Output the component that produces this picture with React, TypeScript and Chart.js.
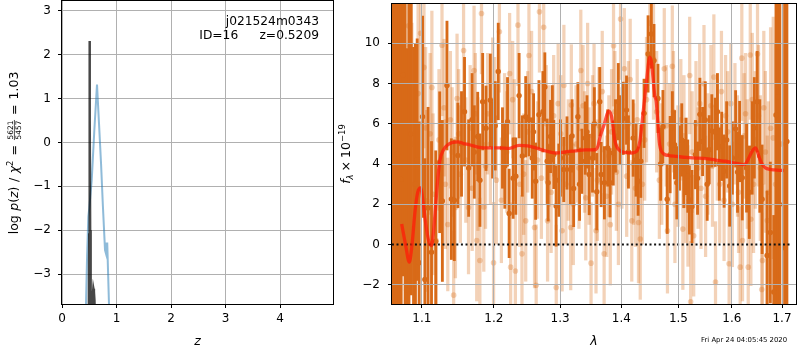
import React, { useEffect, useRef } from 'react';
import { Chart, registerables } from 'chart.js';

Chart.register(...registerables);

const FAM = 'DejaVu Sans';

// ---------- left panel: log p(z) ----------
const zTicks = [0, 1, 2, 3, 4];
const logpTicks = [-3, -2, -1, 0, 1, 2, 3];
const pzBlueZ = [0.425, 0.44, 0.46, 0.483, 0.5, 0.545, 0.593, 0.642, 0.68, 0.716, 0.75, 0.789, 0.8, 0.807, 0.83, 0.846, 0.862, 0.875];
const pzBlueLog = [-4.6, -3.7, -2.6, -1.69, -1.5, -0.86, 0.28, 1.32, 0.4, -0.48, -1.45, -2.45, -2.5, -2.3, -2.3, -3.0, -3.7, -4.5];
const pzDarkZ = [0.49, 0.5, 0.505, 0.508, 0.511, 0.516, 0.525, 0.55, 0.565, 0.575, 0.585, 0.595, 0.61];
const pzDarkLog = [-4.5, -2.1, 0.5, 2.31, 0.5, -2.0, -4.0, -4.2, -3.5, -3.33, -3.4, -3.6, -4.5];

// ---------- right panel: spectrum ----------
const lamTicks = [1.1, 1.2, 1.3, 1.4, 1.5, 1.6, 1.7];
const fluxTicks = [-2, 0, 2, 4, 6, 8, 10];

const darkLam = [1.0625, 1.065, 1.068, 1.07, 1.0726, 1.0756, 1.078, 1.08, 1.083, 1.086, 1.089, 1.0915, 1.0938, 1.0964, 1.1009, 1.104, 1.1083, 1.1129, 1.1186, 1.124, 1.1276, 1.1339, 1.1399, 1.144, 1.1489, 1.1582, 1.1689, 1.1768, 1.1839, 1.1887, 1.1949, 1.1982, 1.2064, 1.2126, 1.22, 1.2224, 1.2283, 1.2323, 1.2372, 1.2471, 1.2521, 1.257, 1.2622, 1.2672, 1.2733, 1.2763, 1.2799, 1.2814, 1.2851, 1.2902, 1.2938, 1.3006, 1.3058, 1.3109, 1.3163, 1.3215, 1.3283, 1.3347, 1.3402, 1.3466, 1.352, 1.359, 1.3639, 1.3662, 1.3716, 1.377, 1.381, 1.3864, 1.3948, 1.3977, 1.4032, 1.4087, 1.4201, 1.4286, 1.4333, 1.4389, 1.4459, 1.4516, 1.4563, 1.4633, 1.4721, 1.4797, 1.485, 1.4929, 1.497, 1.5019, 1.5096, 1.5138, 1.52, 1.5247, 1.531, 1.5394, 1.5444, 1.5494, 1.5569, 1.5617, 1.5681, 1.5724, 1.5806, 1.5851, 1.5958, 1.601, 1.6073, 1.6151, 1.6203, 1.6287, 1.6398, 1.6497, 1.6596, 1.6696, 1.6762, 1.6831, 1.6877, 1.6918, 1.695, 1.7054, 1.7101,
  1.154, 1.164, 1.172, 1.18, 1.202, 1.216, 1.242, 1.259, 1.288, 1.298, 1.319, 1.331, 1.343, 1.355, 1.39, 1.412, 1.425, 1.468, 1.489, 1.506, 1.517, 1.535, 1.553, 1.576, 1.59, 1.611, 1.634, 1.644, 1.655];
const darkFlux = [1.0, 7.67, 4.5, -1.0, 3.24, 8.44, 0.5, -2.27, 2.0, 5.5, 0.8, 3.0, 4.22, -0.9, 6.35, -1.73, 1.82, -0.38, 0.16, 4.09, 2.17, 7.9, 2.26, 2.2, 4.43, 6.6, 6.2, 5.37, 7.1, 5.78, 7.17, 5.2, 8.6, 4.8, 6.1, 1.55, 3.3, 3.4, 7.4, 6.35, 6.2, 4.3, 3.15, 6.45, 6.6, 7.83, 4.14, 3.07, 5.37, 4.48, 1.92, 4.3, 3.73, 4.55, 3.73, 2.79, 6.35, 4.14, 5.29, 3.48, 4.3, 2.63, 7.1, 3.48, 3.07, 4.8, 3.07, 4.55, 7.1, 5.7, 6.27, 6.68, 5.29, 3.15, 4.14, 6.52, 9.47, 10.46, 9.14, 7.26, 5.86, 2.25, 4.47, 4.96, 3.07, 4.3, 3.53, 4.38, 2.22, 1.89, 4.47, 6.47, 5.12, 6.19, 4.71, 5.65, 5.58, 6.6, 4.88, 3.65, 2.91, 4.3, 5.75, 5.12, 3.32, 3.81, 4.8, 7.1, 2.25, -0.54, 0.6, -2.35, 6.44, 7.34, 2.0, -0.16, 5.12,
  5.0, 3.8, 4.6, 3.2, 5.9, 3.9, 4.4, 5.6, 6.0, 3.2, 5.4, 3.0, 5.6, 6.0, 5.4, 4.6, 4.2, 4.0, 5.8, 5.2, 3.4, 3.3, 3.0, 4.0, 5.2, 3.6, 2.6, 5.8, 4.4];
const darkErr = [25, 14, 20, 18, 12, 10, 16, 12, 10, 8, 9, 7, 6, 7, 5, 6, 5, 5.5, 4.5, 3.5, 4, 3.2, 3, 3, 2.6, 2.7, 2.3, 2.2, 2.4, 2.1, 2.3, 1.9, 2.4, 2.0, 2.2, 2.2, 2.0, 1.9, 2.1, 2.0, 1.8, 2.0, 1.9, 1.7, 2.0, 1.7, 2.1, 1.9, 1.8, 1.7, 2.0, 1.9, 1.6, 1.8, 1.7, 1.9, 1.7, 1.6, 1.8, 2.0, 1.7, 1.9, 1.7, 1.6, 1.8, 1.9, 1.7, 1.6, 1.9, 1.7, 1.8, 1.7, 1.9, 1.7, 1.8, 1.7, 1.9, 1.7, 1.8, 1.7, 1.8, 1.7, 1.9, 1.7, 1.8, 1.6, 1.7, 1.9, 1.7, 1.8, 1.7, 1.8, 1.7, 1.9, 1.7, 1.8, 1.7, 1.9, 1.7, 1.8, 2.0, 1.8, 1.9, 2.0, 2.1, 2.2, 2.3, 2.5, 2.7, 3.2, 3.5, 3.8, 15, 15, 18, 14, 14,
  2.6, 2.4, 2.3, 2.3, 2.2, 2.1, 2.0, 1.9, 1.9, 1.8, 1.8, 1.8, 1.8, 1.8, 1.8, 1.8, 1.8, 1.8, 1.8, 1.8, 1.8, 1.8, 1.8, 1.8, 1.9, 2.0, 2.3, 2.5, 2.8];

const lightLam = [1.0732, 1.0824, 1.084, 1.0868, 1.0983, 1.1028, 1.1065, 1.111, 1.1134, 1.1193, 1.1271, 1.1317, 1.1386, 1.1431, 1.1455, 1.1478, 1.1524, 1.1569, 1.1638, 1.1661, 1.1716, 1.1754, 1.1772, 1.1799, 1.1822, 1.1855, 1.1909, 1.1983, 1.1996, 1.2036, 1.2081, 1.2156, 1.2231, 1.2246, 1.2276, 1.2316, 1.2355, 1.2381, 1.2415, 1.2471, 1.2501, 1.252, 1.2605, 1.263, 1.265, 1.268, 1.2745, 1.2785, 1.2805, 1.286, 1.294, 1.297, 1.3011, 1.3032, 1.3092, 1.3168, 1.3178, 1.3253, 1.333, 1.3366, 1.341, 1.3463, 1.3496, 1.3545, 1.3577, 1.3625, 1.3711, 1.3754, 1.3814, 1.3835, 1.3868, 1.3916, 1.3986, 1.405, 1.4119, 1.4177, 1.4241, 1.4293, 1.4323, 1.4432, 1.4554, 1.4658, 1.4745, 1.478, 1.4802, 1.4889, 1.4936, 1.5043, 1.508, 1.5136, 1.5173, 1.5205, 1.5223, 1.5279, 1.5321, 1.5414, 1.547, 1.5544, 1.56, 1.5656, 1.5687, 1.5767, 1.5879, 1.5947, 1.601, 1.6109, 1.6162, 1.6194, 1.6207, 1.6267, 1.632, 1.636, 1.6372, 1.6425, 1.6504, 1.6524, 1.6589, 1.6603, 1.6662, 1.6722, 1.6767, 1.6821,
  1.076, 1.09, 1.095, 1.105, 1.115, 1.123, 1.13, 1.135, 1.141, 1.15, 1.16, 1.169, 1.1735, 1.188, 1.195, 1.201, 1.211, 1.219, 1.23, 1.244, 1.256, 1.271, 1.283, 1.29, 1.306, 1.313, 1.321, 1.33, 1.339, 1.344, 1.352, 1.36, 1.368, 1.379, 1.389, 1.395, 1.401, 1.409, 1.415, 1.421, 1.427, 1.436, 1.44, 1.449, 1.461, 1.47, 1.484, 1.491, 1.499, 1.51, 1.525, 1.536, 1.539, 1.55, 1.563, 1.572, 1.58, 1.585, 1.592, 1.598, 1.606, 1.613, 1.624, 1.63, 1.64, 1.646, 1.656, 1.663, 1.67, 1.687, 1.699];
const lightFlux = [4.8, 10.87, 9.85, 5.0, 10.5, 8.8, 2.17, 5.5, 7.8, 0.2, 9.9, 3.0, 6.2, -2.51, 1.84, 7.26, 3.5, 9.64, 1.84, 5.8, 8.65, 0.2, 4.0, -0.79, 11.48, 1.87, 6.5, 7.17, -0.9, 3.2, 10.57, 5.4, 8.49, -1.12, 7.2, -1.31, 10.9, 3.0, -0.46, 1.18, 5.6, 9.39, 0.85, -2.02, 4.2, 11.56, 10.79, 6.0, 1.18, 2.6, -2.13, 7.0, 5.5, 0.69, 3.0, 0.85, 6.93, 5.0, 8.65, 6.9, 2.33, 3.9, -0.92, 7.0, 0.69, 5.9, -0.46, 2.4, 0.99, 5.6, 9.88, 3.6, 11.2, 8.73, 6.0, 1.18, 2.8, 1.1, 0.28, 7.2, 9.22, 3.2, 8.73, 5.9, 0.69, 8.86, 2.0, 6.2, 0.77, 3.2, 1.92, 8.4, -2.84, 0.44, 6.0, 2.8, 7.99, 4.5, 6.9, 8.32, -1.86, 3.0, 6.4, -0.95, 2.0, 4.4, -1.12, 9.26, 0.2, 6.5, -1.12, 9.42, 1.26, 3.0, 9.47, 6.4, -2.23, -0.79, 4.6, 2.6, 5.78, 5.3,
  6.0, 3.0, 7.5, 5.8, 2.5, 5.2, 6.8, 1.0, 4.6, 5.5, 4.2, 2.8, 6.5, 3.9, 5.0, 6.3, 2.2, 4.6, 5.2, 3.5, 7.6, 3.3, 4.9, 6.4, 7.9, 4.2, 2.0, 3.8, 4.6, 8.0, 5.4, 3.2, 7.6, 4.4, 6.6, 2.0, 4.8, 3.4, 8.2, 4.0, 6.2, 3.0, 5.2, 11.0, 6.6, 4.0, 5.0, 6.6, 3.9, 5.4, 4.6, 3.8, 7.0, 2.4, 3.9, 5.2, 7.6, 2.2, 5.6, 7.0, 6.0, 2.6, 5.4, 4.0, 7.2, 5.2, 3.8, 6.8, 1.2, 3.0, 5.0];
const lightErr = [8, 6, 5, 6, 4.5, 4, 4.5, 4, 3.8, 4, 3.5, 3.2, 3.4, 3.2, 3.5, 3.2, 3.4, 3.0, 3.3, 3.1, 3.2, 3.0, 3.3, 3.1, 3.0, 3.2, 3.0, 3.1, 3.0, 3.2, 3.0, 3.1, 3.0, 3.2, 2.9, 3.0, 3.0, 3.1, 2.9, 3.0, 3.0, 3.1, 3.0, 3.0, 2.9, 3.0, 3.1, 2.9, 3.0, 3.0, 3.1, 3.0, 2.9, 3.0, 3.0, 3.1, 3.0, 2.9, 3.0, 3.0, 3.1, 2.9, 3.0, 3.0, 3.1, 2.9, 3.0, 3.0, 3.0, 3.1, 3.0, 2.9, 3.0, 3.0, 3.1, 3.0, 2.9, 3.0, 3.0, 3.1, 3.0, 2.9, 3.0, 3.0, 3.1, 3.0, 2.9, 3.0, 3.0, 3.1, 3.0, 2.9, 3.0, 3.0, 3.1, 3.0, 2.9, 3.0, 3.0, 3.1, 3.0, 2.9, 3.0, 3.0, 3.1, 3.0, 3.0, 3.1, 3.0, 3.0, 3.2, 3.2, 3.3, 3.4, 3.5, 3.5, 3.8, 3.8, 4, 4.5, 5, 6,
  7, 5, 4.5, 4, 4, 3.5, 3.4, 3.3, 3.2, 3.2, 3.1, 3.1, 3.0, 3.1, 3.0, 3.0, 3.1, 3.0, 3.0, 3.0, 3.0, 3.0, 3.0, 3.0, 3.0, 3.0, 3.0, 3.0, 3.0, 3.0, 3.0, 3.0, 3.0, 3.0, 3.0, 3.0, 3.0, 3.0, 3.0, 3.0, 3.0, 3.0, 3.0, 3.0, 3.0, 3.0, 3.0, 3.0, 3.0, 3.0, 3.0, 3.0, 3.0, 3.0, 3.0, 3.0, 3.0, 3.0, 3.0, 3.0, 3.0, 3.0, 3.1, 3.2, 3.3, 3.4, 3.6, 3.8, 4.2, 7, 10];

const modelLam = [1.0735, 1.0785, 1.0834, 1.087, 1.0908, 1.0945, 1.0983, 1.102, 1.1053, 1.109, 1.1129, 1.116, 1.1186, 1.1212, 1.124, 1.129, 1.1352, 1.142, 1.1489, 1.157, 1.1652, 1.1792, 1.195, 1.2079, 1.223, 1.2372, 1.25, 1.2622, 1.278, 1.2928, 1.308, 1.3242, 1.34, 1.3564, 1.361, 1.3646, 1.3716, 1.3782, 1.3832, 1.3894, 1.3977, 1.408, 1.4173, 1.4259, 1.432, 1.4374, 1.4431, 1.449, 1.4521, 1.4575, 1.4603, 1.4663, 1.474, 1.481, 1.497, 1.5138, 1.532, 1.5505, 1.569, 1.5881, 1.606, 1.6236, 1.629, 1.634, 1.64, 1.6464, 1.651, 1.6557, 1.661, 1.6663, 1.675, 1.685, 1.695, 1.7034];
const modelFlux = [1.02, 0.0, -0.87, 0.0, 1.6, 2.6, 2.82, 2.0, 1.0, 0.2, -0.05, 0.8, 2.0, 3.2, 4.14, 4.7, 4.96, 5.08, 5.1, 5.02, 4.96, 4.83, 4.8, 4.8, 4.78, 4.93, 4.9, 4.8, 4.65, 4.55, 4.6, 4.66, 4.7, 4.71, 4.9, 5.37, 6.0, 6.63, 6.4, 5.12, 4.66, 4.57, 4.55, 4.63, 5.2, 6.6, 8.08, 9.31, 9.0, 7.42, 7.09, 4.96, 4.5, 4.43, 4.38, 4.33, 4.3, 4.27, 4.2, 4.14, 4.05, 3.97, 4.1, 4.35, 4.65, 4.8, 4.55, 4.2, 3.95, 3.81, 3.74, 3.71, 3.69, 3.68];

const zeroLam = [1.055, 1.718];
const zeroFlux = [0, 0];

// ---------- helpers ----------
const minus = (v: number) => (v < 0 ? '\u2212' + Math.abs(v) : String(v));
const tickFont = { family: FAM, size: 12 };

type Seg = { t?: string; font?: string; dy?: number; gap?: number; frac?: [string, string]; fracFont?: string };

function segWidth(ctx: CanvasRenderingContext2D, s: Seg): number {
  if (s.gap !== undefined) return s.gap;
  if (s.frac) {
    ctx.font = s.fracFont as string;
    return Math.max(ctx.measureText(s.frac[0]).width, ctx.measureText(s.frac[1]).width) + 1;
  }
  ctx.font = s.font as string;
  return ctx.measureText(s.t as string).width;
}

function drawRotated(ctx: CanvasRenderingContext2D, baseX: number, cy: number, segs: Seg[]) {
  ctx.save();
  ctx.translate(baseX, cy);
  ctx.rotate(-Math.PI / 2);
  ctx.fillStyle = '#000';
  ctx.strokeStyle = '#000';
  ctx.textBaseline = 'alphabetic';
  ctx.textAlign = 'left';
  const widths = segs.map((s) => segWidth(ctx, s));
  const total = widths.reduce((a, b) => a + b, 0);
  let x = -total / 2;
  segs.forEach((s, i) => {
    const w = widths[i];
    if (s.frac) {
      ctx.font = s.fracFont as string;
      ctx.textAlign = 'center';
      ctx.fillText(s.frac[0], x + w / 2, -4.8);
      ctx.fillText(s.frac[1], x + w / 2, 2.4);
      ctx.textAlign = 'left';
      ctx.lineWidth = 0.7;
      ctx.beginPath();
      ctx.moveTo(x, -3.9);
      ctx.lineTo(x + w, -3.9);
      ctx.stroke();
    } else if (s.t) {
      ctx.font = s.font as string;
      ctx.fillText(s.t, x, s.dy || 0);
    }
    x += w;
  });
  ctx.restore();
}

const boxPlugin = {
  id: 'axbox',
  afterDraw(chart: any) {
    const { ctx, chartArea: a } = chart;
    ctx.save();
    ctx.strokeStyle = '#000';
    ctx.lineWidth = 1;
    ctx.strokeRect(a.left - 0.5, a.top - 0.5, a.right - a.left + 1, a.bottom - a.top + 1);
    ctx.restore();
  },
};

const M = `12.5px ${FAM}`;
const I = `italic 12.5px ${FAM}`;

const leftText = {
  id: 'leftText',
  afterDraw(chart: any) {
    const { ctx, chartArea: a } = chart;
    ctx.save();
    ctx.fillStyle = '#000';
    ctx.textBaseline = 'alphabetic';
    ctx.font = `12.25px ${FAM}`;
    ctx.textAlign = 'right';
    ctx.fillText('j021524m0343', 319, 25);
    ctx.fillText('z=0.5209', 319, 39);
    ctx.textAlign = 'left';
    ctx.fillText('ID=16', 199.3, 39);
    ctx.textAlign = 'center';
    ctx.font = I;
    ctx.fillText('z', (a.left + a.right) / 2, 345);
    ctx.restore();
    drawRotated(ctx, 18.3, 153, [
      { t: 'log', font: M },
      { gap: 4.5 },
      { t: 'p', font: I },
      { t: '(', font: M },
      { t: 'z', font: I },
      { t: ')', font: M },
      { gap: 4.5 },
      { t: '/', font: M },
      { gap: 4.5 },
      { t: '\u03c7', font: I },
      { t: '2', font: `8.5px ${FAM}`, dy: -5 },
      { gap: 5 },
      { t: '=', font: M },
      { gap: 5 },
      { frac: ['5621', '5457'], fracFont: `7.5px ${FAM}` },
      { gap: 5 },
      { t: '=', font: M },
      { gap: 5 },
      { t: '1.03', font: M },
    ]);
  },
};

const rightText = {
  id: 'rightText',
  afterDraw(chart: any) {
    const { ctx, chartArea: a } = chart;
    ctx.save();
    ctx.fillStyle = '#000';
    ctx.textBaseline = 'alphabetic';
    ctx.textAlign = 'center';
    ctx.font = I;
    ctx.fillText('\u03bb', (a.left + a.right) / 2, 345);
    ctx.textAlign = 'left';
    ctx.font = `6.9px ${FAM}`;
    ctx.fillText('Fri Apr 24 04:05:45 2020', 365, 342);
    ctx.restore();
    drawRotated(ctx, 14, 154, [
      { t: 'f', font: I },
      { t: '\u03bb', font: `italic 8.5px ${FAM}`, dy: 2.5 },
      { gap: 3 },
      { t: '\u00d7', font: M },
      { gap: 3 },
      { t: '10', font: M },
      { t: '\u221219', font: `8.5px ${FAM}`, dy: -5 },
    ]);
  },
};

function axis(opts: any) {
  const { min, max, type, ticks, width, height, pad, gridZ, fmt, hideZeroGrid } = opts;
  return {
    type,
    min,
    max,
    bounds: 'data',
    offset: false,
    afterBuildTicks: (s: any) => {
      s.ticks = ticks.map((v: number) => ({ value: v }));
    },
    afterFit: (s: any) => {
      if (width !== undefined) s.width = width;
      if (height !== undefined) s.height = height;
      s.paddingTop = 0;
      s.paddingBottom = 0;
      s.paddingLeft = 0;
      s.paddingRight = 0;
    },
    grid: {
      color: hideZeroGrid ? (c: any) => (c.tick && c.tick.value === 0 ? 'rgba(0,0,0,0)' : '#b0b0b0') : '#b0b0b0',
      lineWidth: 1,
      tickColor: '#000',
      tickLength: 4,
      offset: false,
      z: gridZ,
    },
    border: { display: false },
    title: { display: false },
    ticks: { font: tickFont, color: '#000', padding: pad, maxRotation: 0, minRotation: 0, autoSkip: false, callback: fmt },
  };
}

export default function App() {
  const ref1 = useRef<HTMLCanvasElement>(null);
  const ref2 = useRef<HTMLCanvasElement>(null);

  useEffect(() => {
    const darkColor = 'rgb(216,106,24)';
    const lightColor = 'rgba(214,105,20,0.3)';

    const c1 = new Chart(ref1.current as HTMLCanvasElement, {
      type: 'scatter',
      data: {
        datasets: [
          {
            type: 'line',
            data: pzDarkZ.map((z, i) => ({ x: z, y: pzDarkLog[i] })),
            borderColor: 'rgba(0,0,0,0.72)',
            borderWidth: 2.5,
            pointRadius: 0,
            clip: 0,
            order: 0,
          } as any,
          {
            type: 'line',
            data: pzBlueZ.map((z, i) => ({ x: z, y: pzBlueLog[i] })),
            borderColor: 'rgba(31,119,180,0.5)',
            borderWidth: 2,
            pointRadius: 0,
            clip: 0,
            order: 1,
          } as any,
        ],
      },
      options: {
        responsive: false,
        animation: false,
        events: [],
        devicePixelRatio: 1,
        layout: { padding: { left: 0, right: 7, top: 1, bottom: 0 } },
        plugins: { legend: { display: false }, tooltip: { enabled: false } },
        scales: {
          x: axis({ type: 'linear', min: 0, max: 4.97, ticks: zTicks, height: 46, pad: 4, gridZ: -1, fmt: (v: number) => minus(v) }),
          y: axis({ type: 'linear', min: -3.68, max: 3.22, ticks: logpTicks, width: 62, pad: 7, gridZ: -1, fmt: (v: number) => minus(v) }),
        },
      } as any,
      plugins: [boxPlugin, leftText],
    });

    const c2 = new Chart(ref2.current as HTMLCanvasElement, {
      type: 'scatter',
      data: {
        datasets: [
          {
            type: 'line',
            data: modelLam.map((l, i) => ({ x: l, y: modelFlux[i] })),
            borderColor: 'rgba(255,28,8,0.75)',
            borderWidth: 3.3,
            pointRadius: 0,
            cubicInterpolationMode: 'monotone',
            clip: 0,
            order: 0,
          } as any,
          {
            type: 'line',
            data: zeroLam.map((l, i) => ({ x: l, y: zeroFlux[i] })),
            borderColor: '#111',
            borderWidth: 2,
            borderDash: [2, 2.6],
            pointRadius: 0,
            clip: 0,
            order: 1,
          } as any,
          {
            type: 'scatter',
            data: darkLam.map((l, i) => ({ x: l, y: darkFlux[i] })),
            backgroundColor: darkColor,
            borderWidth: 0,
            pointRadius: 2.7,
            clip: 0,
            order: 2,
          } as any,
          {
            type: 'bar',
            data: darkLam.map((l, i) => ({ x: l, y: [darkFlux[i] - darkErr[i], darkFlux[i] + darkErr[i]] })),
            backgroundColor: darkColor,
            borderWidth: 0,
            barThickness: 2.2,
            grouped: false,
            clip: 0,
            order: 3,
          } as any,
          {
            type: 'scatter',
            data: lightLam.map((l, i) => ({ x: l, y: lightFlux[i] })),
            backgroundColor: lightColor,
            borderWidth: 0,
            pointRadius: 2.8,
            clip: 0,
            order: 4,
          } as any,
          {
            type: 'bar',
            data: lightLam.map((l, i) => ({ x: l, y: [lightFlux[i] - lightErr[i], lightFlux[i] + lightErr[i]] })),
            backgroundColor: lightColor,
            borderWidth: 0,
            barThickness: 2.6,
            grouped: false,
            clip: 0,
            order: 5,
          } as any,
        ],
      },
      options: {
        responsive: false,
        animation: false,
        events: [],
        devicePixelRatio: 1,
        layout: { padding: { left: 0, right: 1, top: 1, bottom: 0 } },
        plugins: { legend: { display: false }, tooltip: { enabled: false } },
        scales: {
          x: axis({ type: 'logarithmic', min: 1.061, max: 1.729, ticks: lamTicks, height: 46, pad: 4, gridZ: 1, fmt: (v: number) => Number(v).toFixed(1) }),
          y: axis({ type: 'linear', min: -2.95, max: 11.95, ticks: fluxTicks, width: 56, pad: 8, gridZ: 1, hideZeroGrid: true, fmt: (v: number) => minus(v) }),
        },
      } as any,
      plugins: [boxPlugin, rightText],
    });

    return () => {
      c1.destroy();
      c2.destroy();
    };
  }, []);

  return (
    <div style={{ position: 'absolute', left: 0, top: 0, width: 800, height: 350, background: '#fff', overflow: 'hidden' }}>
      <canvas ref={ref1} width={340} height={350} style={{ position: 'absolute', left: 0, top: 0, width: 340, height: 350 }} />
      <canvas ref={ref2} width={464} height={350} style={{ position: 'absolute', left: 336, top: 0, width: 464, height: 350 }} />
    </div>
  );
}
